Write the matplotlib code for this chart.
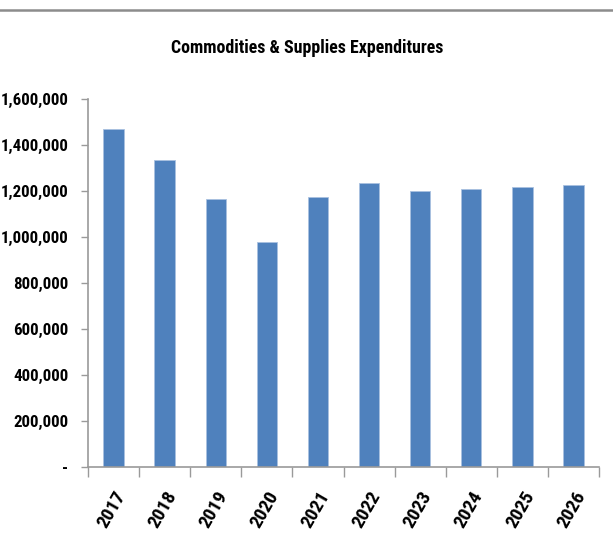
import matplotlib
matplotlib.use("Agg")
import matplotlib.pyplot as plt
from matplotlib import font_manager
from matplotlib.ticker import FuncFormatter, FixedLocator
from matplotlib.lines import Line2D
from matplotlib.textpath import TextPath
from matplotlib.font_manager import FontProperties

years = ["2017", "2018", "2019", "2020", "2021", "2022", "2023", "2024", "2025", "2026"]
expenditures = [1470000, 1333000, 1165000, 980000, 1174000, 1233000, 1200000, 1209000, 1216000, 1225000]
y_ticks = [0, 200000, 400000, 600000, 800000, 1000000, 1200000, 1400000, 1600000]

# prefer a condensed face; fall back to the regular sans
family = "Liberation Sans"
for cand in ["Liberation Sans Narrow", "DejaVu Sans Condensed", "Roboto Condensed",
             "Open Sans Condensed", "Noto Sans Condensed"]:
    try:
        font_manager.findfont(FontProperties(family=cand, weight="bold"), fallback_to_default=False)
        family = cand
        break
    except Exception:
        pass
plt.rcParams['font.family'] = [family, 'DejaVu Sans']


def fit_size(text, width_px, dpi=100):
    """Font size (pt) giving the requested rendered width in pixels."""
    tp = TextPath((0, 0), text, size=10, prop=FontProperties(family=family, weight="bold"))
    w = tp.get_extents().width  # in points at size 10
    return 10 * width_px / (w * dpi / 72)


ytick_size = min(fit_size("1,600,000", 66), 14)
title_size = min(fit_size("Commodities & Supplies Expenditures", 272), 16)
xtick_size = min(fit_size("2017", 45), 14)

fig = plt.figure(figsize=(6.13, 5.5), dpi=100)
ax = fig.add_axes([88 / 613, 83 / 550, 511 / 613, 368 / 550])

x = list(range(len(years)))
ax.bar(x, expenditures, width=0.4, color="#4F81BD", edgecolor="#A9C1E0", linewidth=0.6)

ax.set_xlim(-0.5, len(years) - 0.5)
ax.set_ylim(0, 1600000)

ax.yaxis.set_major_locator(FixedLocator(y_ticks))
ax.yaxis.set_major_formatter(FuncFormatter(lambda v, p: "-" if v == 0 else f"{int(v):,}"))

ax.set_xticks(x)
ax.set_xticklabels(years, rotation=60, ha="right", rotation_mode="anchor",
                   fontsize=xtick_size, fontweight="bold")
ax.set_xticks([i - 0.5 for i in range(len(years) + 1)], minor=True)
ax.tick_params(axis="x", which="major", length=0, pad=15)
ax.tick_params(axis="x", which="minor", length=7, width=1, color="#9A9A9A", direction="out")
ax.tick_params(axis="y", length=5, width=1, color="#9A9A9A", direction="out", pad=9,
               labelsize=ytick_size)
for lbl in ax.get_yticklabels():
    lbl.set_fontweight("bold")

for side in ("top", "right"):
    ax.spines[side].set_visible(False)
for side in ("left", "bottom"):
    ax.spines[side].set_color("#9A9A9A")
    ax.spines[side].set_linewidth(1.2)

fig.text(307 / 613, 1 - 48 / 550, "Commodities & Supplies Expenditures",
         ha="center", va="center", fontsize=title_size, fontweight="bold")

# chart frame edge along the top
fig.add_artist(Line2D([0, 1], [1 - 9.5 / 550, 1 - 9.5 / 550], color="#8C8C8C", linewidth=1.8))

fig.savefig("out.png", dpi=100)
